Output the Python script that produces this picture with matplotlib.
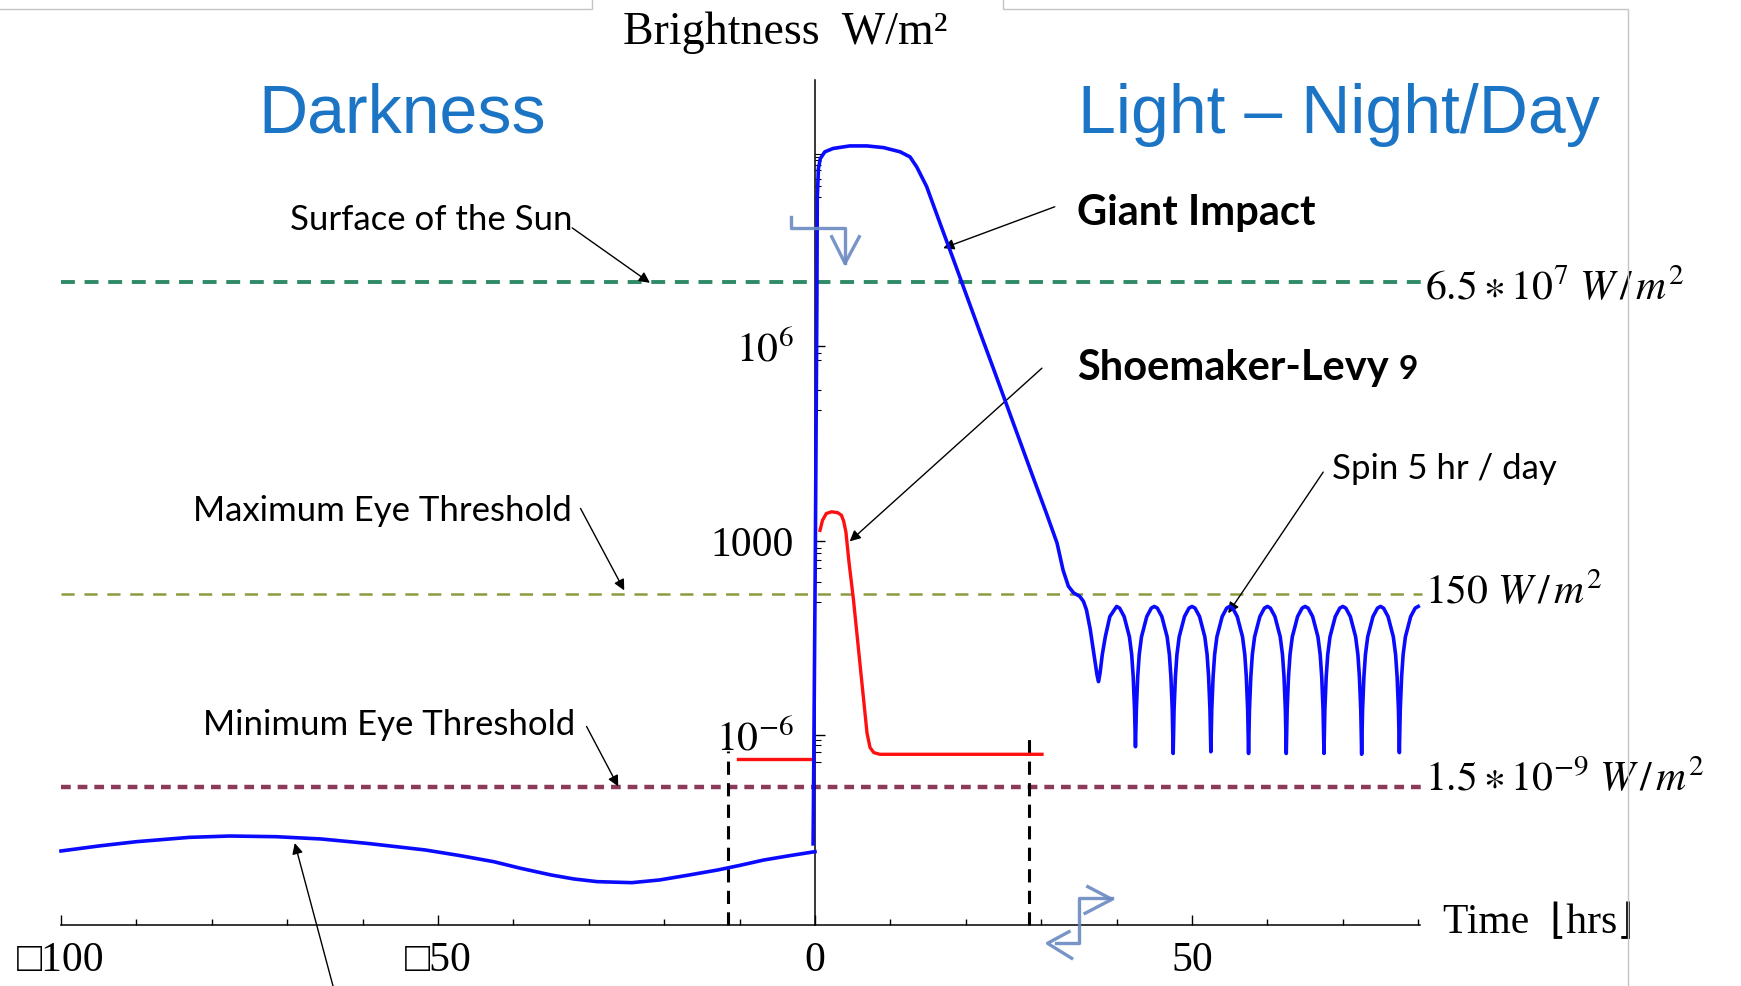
import matplotlib
matplotlib.use("Agg")
import matplotlib.pyplot as plt
from matplotlib.lines import Line2D

# ---- data (time in hours, brightness as position on the schematic scale) ----
dark_t = [-100, -95, -90, -86, -83, -77.6, -71.5, -65.5, -59.4, -51.7, -47, -42.6,
          -39, -35, -32, -28.9, -24.3, -20.6, -16.8, -12.9, -10, -6.8, -3.4, 0]
dark_u = [8.76, 9.35, 9.86, 10.15, 10.37, 10.53, 10.45, 10.18, 9.66, 8.88, 8.2, 7.49,
          6.7, 5.92, 5.45, 5.13, 5.01, 5.33, 5.9, 6.51, 7.05, 7.69, 8.2, 8.68]

impact_t = [-0.25, -0.2, 0.05, 0.25, 0.3, 0.45, 0.7, 1.3, 2.4, 4.6, 6.9, 9.1, 11.3,
            12.6, 13.5, 14.8, 16.6, 18.3, 20.1, 21.9, 23.6, 25.4, 27.2, 29.0, 30.7,
            32.1, 32.9, 33.6, 34.3, 35.1, 35.6, 36.0, 36.5, 37.0, 37.4, 37.6, 37.8,
            38.1, 38.5, 39.1, 40.0]
impact_u = [9.6, 15, 45, 74, 86, 89.5, 90.7, 91.5, 91.9, 92.2, 92.2, 92.0, 91.5,
            90.9, 89.7, 87.4, 83.0, 78.9, 74.5, 70.1, 66.0, 61.6, 57.2, 52.8, 48.7,
            45.2, 42.0, 40.1, 39.3, 38.9, 38.3, 37.3, 35.0, 32.0, 29.6, 28.8, 29.8,
            32.0, 34.1, 36.5, 37.7]

spin_t = [40.4, 41.0, 41.7, 42.0, 42.2, 42.38, 42.5, 42.62, 42.8, 43.0, 43.3, 44.0, 44.6, 45.0,
          45.4, 46.0, 46.7, 47.0, 47.2, 47.38, 47.5, 47.62, 47.8, 48.0, 48.3, 49.0, 49.6, 50.0,
          50.4, 51.0, 51.7, 52.0, 52.2, 52.38, 52.5, 52.62, 52.8, 53.0, 53.3, 54.0, 54.6, 55.0,
          55.4, 56.0, 56.7, 57.0, 57.2, 57.38, 57.5, 57.62, 57.8, 58.0, 58.3, 59.0, 59.6, 60.0,
          60.4, 61.0, 61.7, 62.0, 62.2, 62.38, 62.5, 62.62, 62.8, 63.0, 63.3, 64.0, 64.6, 65.0,
          65.4, 66.0, 66.7, 67.0, 67.2, 67.38, 67.5, 67.62, 67.8, 68.0, 68.3, 69.0, 69.6, 70.0,
          70.4, 71.0, 71.7, 72.0, 72.2, 72.38, 72.5, 72.62, 72.8, 73.0, 73.3, 74.0, 74.6, 75.0,
          75.4, 76.0, 76.7, 77.0, 77.2, 77.38, 77.5, 77.62, 77.8, 78.0, 78.3, 79.0, 79.6, 80.0]
spin_u = [37.5, 36.5, 34.1, 32.0, 29.4, 25.5, 21.1, 25.5, 29.4, 32.0, 34.1, 36.5, 37.5, 37.7,
          37.5, 36.5, 34.1, 32.0, 29.4, 25.5, 20.3, 25.5, 29.4, 32.0, 34.1, 36.5, 37.5, 37.7,
          37.5, 36.5, 34.1, 32.0, 29.4, 25.5, 20.5, 25.5, 29.4, 32.0, 34.1, 36.5, 37.5, 37.7,
          37.5, 36.5, 34.1, 32.0, 29.4, 25.5, 20.3, 25.5, 29.4, 32.0, 34.1, 36.5, 37.5, 37.7,
          37.5, 36.5, 34.1, 32.0, 29.4, 25.5, 20.3, 25.5, 29.4, 32.0, 34.1, 36.5, 37.5, 37.7,
          37.5, 36.5, 34.1, 32.0, 29.4, 25.5, 20.3, 25.5, 29.4, 32.0, 34.1, 36.5, 37.5, 37.7,
          37.5, 36.5, 34.1, 32.0, 29.4, 25.5, 20.2, 25.5, 29.4, 32.0, 34.1, 36.5, 37.5, 37.7,
          37.5, 36.5, 34.1, 32.0, 29.4, 25.5, 20.4, 25.5, 29.4, 32.0, 34.1, 36.5, 37.5, 37.7]

sl9_pre_t = [-10.2, -0.4]
sl9_pre_u = [19.6, 19.6]
sl9_t = [0.66, 1.0, 1.5, 2.2, 3.0, 3.5, 3.8, 4.1, 4.5, 5.1, 6.0, 6.9, 7.3, 7.8, 8.6, 30.1]
sl9_u = [46.7, 47.9, 48.7, 48.9, 48.8, 48.5, 47.8, 46.5, 43.0, 38.5, 30.6, 22.7, 21.0, 20.4, 20.2, 20.2]

# reference levels
ref_levels = [76.1, 39.2, 16.3]
ref_labels = [r"$6.5 \ast 10^{7}\ W\,/\,m^{2}$", r"$150\ W\,/\,m^{2}$",
              r"$1.5 \ast 10^{-9}\ W\,/\,m^{2}$"]
ref_names = ["Surface of the Sun", "Maximum Eye Threshold", "Minimum Eye Threshold"]
ref_colors = ["#2f8a66", "#8f9a3e", "#8c3a5c"]

window_t = [-11.6, 28.4]
window_top = [20.6, 22.8]

ytick_pos = [68.5, 45.4, 22.5]
ytick_lab = [r"$10^{6}$", "1000", r"$10^{-6}$"]
ytick_minor = [91.3, 90.9, 90.5, 89.9, 89.3, 88.3, 87.5, 86.1, 67.7, 66.9, 63.3, 60.9,
               44.6, 44.0, 43.2, 42.2, 40.6, 38.2, 21.9, 21.3, 20.5, 19.3]
xtick_pos = [-100, -50, 0, 50]
xtick_lab = ["\u25a1100", "\u25a150", "0", "50"]

W, H = 1741, 986
plt.rcParams['font.family'] = ['Liberation Serif', 'DejaVu Sans']
plt.rcParams['mathtext.fontset'] = 'stix'
plt.rcParams['lines.scale_dashes'] = False

fig = plt.figure(figsize=(W / 100, H / 100), dpi=100)
ax = fig.add_axes([0, 0, 1, 1])
ax.set_xlim(-108.09, 122.81)
ax.set_ylim(-7.22, 109.47)
ax.patch.set_visible(False)

for s in ['top', 'right']:
    ax.spines[s].set_visible(False)
ax.spines['left'].set_position(('data', 0))
ax.spines['bottom'].set_position(('data', 0))
ax.spines['left'].set_bounds(0, 100)
ax.spines['bottom'].set_bounds(-100, 80.3)
ax.spines['left'].set_linewidth(1.1)
ax.spines['bottom'].set_linewidth(1.1)

ax.set_xticks(xtick_pos)
ax.set_xticklabels(xtick_lab)
ax.set_xticks([-90, -80, -70, -60, -40, -30, -20, -10, 10, 20, 30, 40, 60, 70, 80], minor=True)
ax.set_yticks(ytick_pos)
ax.set_yticklabels(ytick_lab)
ax.set_yticks(ytick_minor, minor=True)
ax.tick_params(axis='x', which='major', direction='in', length=7, width=1, pad=12, labelsize=30)
ax.tick_params(axis='x', which='minor', direction='in', length=4, width=1)
ax.tick_params(axis='y', which='major', direction='in', length=7, width=1, pad=15, labelsize=30)
ax.tick_params(axis='y', which='minor', direction='in', length=4, width=0.8)

# reference dashed lines
dash_styles = [(10, 7), (9.5, 7), (7, 5)]
widths = [2.8, 1.8, 3.2]
label_shift = [-0.9, 0.0, 0.8]
for lev, col, ds, lw, lab, dy in zip(ref_levels, ref_colors, dash_styles, widths,
                                     ref_labels, label_shift):
    ax.plot([-100, 80.5], [lev, lev], color=col, lw=lw, dashes=ds, zorder=1)
    ax.text(80.9, lev + dy, lab, fontsize=30, ha='left', va='center')

# observation window
for t, top in zip(window_t, window_top):
    ax.plot([t, t], [0, top], color='black', lw=2.2, dashes=(9.5, 6), zorder=2)

# curves
ax.plot(dark_t, dark_u, color='#0a0aff', lw=2.6, zorder=3)
ax.plot(sl9_pre_t, sl9_pre_u, color='#ff1010', lw=2.4, zorder=3)
ax.plot(sl9_t, sl9_u, color='#ff1010', lw=2.4, zorder=3)
ax.plot(impact_t + spin_t, impact_u + spin_u, color='#0a0aff', lw=2.6, zorder=4)

# titles and axis labels
ax.text(-3.98, 105.6, "Brightness  W/m\u00b2", fontsize=33, ha='center', va='center')
ax.text(83.3, 0.2, "Time  \u230ahrs\u230b", fontsize=30, ha='left', va='center')
head_blue = '#1b74c4'
ax.text(-54.8, 95.9, "Darkness", fontsize=49, color=head_blue, ha='center', va='center',
        family=['Liberation Sans', 'DejaVu Sans'])
ax.text(69.5, 95.9, "Light \u2013 Night/Day", fontsize=49, color=head_blue, ha='center',
        va='center', family=['Liberation Sans', 'DejaVu Sans'])

sans = ['Lato', 'DejaVu Sans']
arrow = dict(arrowstyle='-|>', color='black', lw=1.0, mutation_scale=16, shrinkA=0, shrinkB=0)

ax.text(-69.6, 83.4, ref_names[0], fontsize=25, family=sans, ha='left', va='center')
ax.annotate('', xy=(-21.9, 76.0), xytext=(-32.2, 82.5), arrowprops=arrow, annotation_clip=False)
ax.text(-82.5, 49.0, ref_names[1], fontsize=25, family=sans, ha='left', va='center')
ax.annotate('', xy=(-25.3, 39.6), xytext=(-31.1, 49.3), arrowprops=arrow, annotation_clip=False)
ax.text(-81.2, 23.7, ref_names[2], fontsize=25, family=sans, ha='left', va='center')
ax.annotate('', xy=(-26.1, 16.4), xytext=(-30.3, 23.5), arrowprops=arrow, annotation_clip=False)

ax.text(34.7, 84.3, "Giant Impact", fontsize=30, weight='bold', family=sans, ha='left', va='center')
ax.annotate('', xy=(17.0, 80.1), xytext=(31.8, 85.0), arrowprops=arrow, annotation_clip=False)
ax.text(34.7, 65.9, "Shoemaker-Levy", fontsize=30, weight='bold', family=sans, ha='left', va='center')
ax.text(77.4, 65.7, "9", fontsize=24, weight='bold', family=sans, ha='left', va='center')
ax.annotate('', xy=(4.6, 45.4), xytext=(30.1, 65.9), arrowprops=arrow, annotation_clip=False)
ax.text(68.6, 54.0, "Spin 5 hr / day", fontsize=25, family=sans, ha='left', va='center')
ax.annotate('', xy=(54.8, 36.9), xytext=(67.4, 53.6), arrowprops=arrow, annotation_clip=False)
ax.annotate('', xy=(-69.0, 9.7), xytext=(-63.9, -7.3), arrowprops=arrow, annotation_clip=False)


# page decorations (pixel positions on the slide)
def px(xs, ys):
    return [x / W for x in xs], [1 - y / H for y in ys]


gray = '#c4c4c4'
for xs, ys in [([0, 592, 592], [9, 9, 0]), ([1003, 1003, 1628, 1628], [0, 9, 9, 986])]:
    fx, fy = px(xs, ys)
    fig.add_artist(Line2D(fx, fy, transform=fig.transFigure, color=gray, lw=1))

bracket = '#6a8ac2'
shapes = [
    ([790.7, 790.7, 845, 845], [216.7, 228.3, 228.3, 263.3]),
    ([831.7, 845, 859.3], [236.7, 263.3, 236.7]),
    ([1111.9, 1078.6, 1078.6, 1055.6], [898.3, 898.3, 943.3, 943.3]),
    ([1087.8, 1111.9, 1085.1], [886.7, 899.3, 913.3]),
    ([1069.0, 1047.5, 1071.7], [931.7, 943.3, 958.3]),
]
for xs, ys in shapes:
    fx, fy = px(xs, ys)
    fig.add_artist(Line2D(fx, fy, transform=fig.transFigure, color=bracket, lw=2.4, alpha=0.9))

fig.savefig("out.png", dpi=100)
